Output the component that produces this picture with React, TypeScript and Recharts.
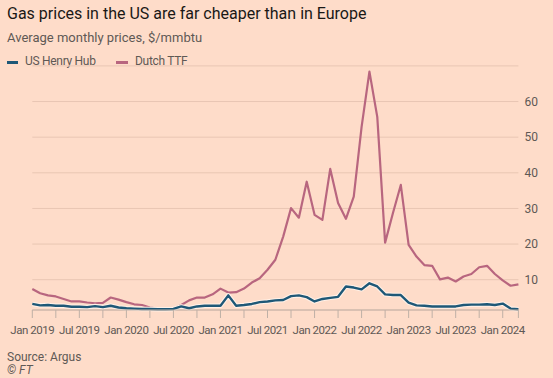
import React from 'react';
import { LineChart, Line, XAxis, YAxis, CartesianGrid } from 'recharts';

const months = [
  'Jan 2019','Feb 2019','Mar 2019','Apr 2019','May 2019','Jun 2019','Jul 2019','Aug 2019','Sep 2019','Oct 2019','Nov 2019','Dec 2019',
  'Jan 2020','Feb 2020','Mar 2020','Apr 2020','May 2020','Jun 2020','Jul 2020','Aug 2020','Sep 2020','Oct 2020','Nov 2020','Dec 2020',
  'Jan 2021','Feb 2021','Mar 2021','Apr 2021','May 2021','Jun 2021','Jul 2021','Aug 2021','Sep 2021','Oct 2021','Nov 2021','Dec 2021',
  'Jan 2022','Feb 2022','Mar 2022','Apr 2022','May 2022','Jun 2022','Jul 2022','Aug 2022','Sep 2022','Oct 2022','Nov 2022','Dec 2022',
  'Jan 2023','Feb 2023','Mar 2023','Apr 2023','May 2023','Jun 2023','Jul 2023','Aug 2023','Sep 2023','Oct 2023','Nov 2023','Dec 2023',
  'Jan 2024','Feb 2024','Mar 2024',
];

const henryHub = [
  3.2, 2.8, 2.9, 2.7, 2.7, 2.4, 2.4, 2.3, 2.6, 2.3, 2.7, 2.2,
  2.0, 1.9, 1.8, 1.8, 1.7, 1.7, 1.8, 2.5, 2.0, 2.5, 2.7, 2.7,
  2.7, 5.6, 2.7, 2.9, 3.2, 3.7, 3.9, 4.2, 4.3, 5.4, 5.6, 5.1,
  3.9, 4.6, 4.9, 5.2, 8.1, 7.8, 7.3, 9.0, 8.1, 5.9, 5.7, 5.7,
  3.6, 2.8, 2.7, 2.5, 2.5, 2.5, 2.5, 2.9, 3.0, 3.0, 3.1, 2.9,
  3.3, 1.9, 1.7,
];

const dutchTTF = [
  7.4, 6.2, 5.6, 5.3, 4.6, 3.9, 3.9, 3.6, 3.4, 3.5, 5.0, 4.4,
  3.7, 3.1, 2.9, 2.2, 1.9, 1.8, 1.9, 2.9, 4.2, 5.0, 5.0, 5.9,
  7.5, 6.4, 6.5, 7.5, 9.2, 10.4, 12.8, 15.6, 22.1, 30.1, 27.4, 37.5,
  28.2, 26.8, 41.1, 31.5, 27.1, 33.3, 52.9, 68.4, 55.7, 20.4, 28.7, 36.6,
  19.8, 16.5, 14.1, 13.9, 10.1, 10.6, 9.5, 10.9, 11.6, 13.5, 13.9, 11.6,
  9.8, 8.3, 8.7,
];

const xTickMarks = [
  'Jan 2019','Apr 2019','Jul 2019','Oct 2019','Jan 2020','Apr 2020','Jul 2020','Oct 2020',
  'Jan 2021','Apr 2021','Jul 2021','Oct 2021','Jan 2022','Apr 2022','Jul 2022','Oct 2022',
  'Jan 2023','Apr 2023','Jul 2023','Oct 2023','Jan 2024','Mar 2024',
];
const xTickLabels = [
  'Jan 2019','Jul 2019','Jan 2020','Jul 2020','Jan 2021','Jul 2021','Jan 2022','Jul 2022',
  'Jan 2023','Jul 2023','Jan 2024',
];
const yTicks = [10, 20, 30, 40, 50, 60];

const data = months.map((m, i) => ({ month: m, hh: henryHub[i], ttf: dutchTTF[i] }));

const BG = '#FEDCC9';
const BLUE = '#1E5877';
const PINK = '#B8667F';
const FONT = 'Roboto, "Open Sans", sans-serif';
const TEXT = '#5E5955';

const XTick = (props: any) => {
  const { x, y, payload } = props;
  if (!xTickLabels.includes(payload.value)) return null;
  return (
    <text x={x} y={y + 14} textAnchor="middle" fill={TEXT} fontSize={11.5} letterSpacing={-0.45} fontFamily={FONT}>
      {payload.value}
    </text>
  );
};

export default function App() {
  return (
    <div style={{ position: 'absolute', left: 0, top: 0, width: 553, height: 378, background: BG, fontFamily: FONT, overflow: 'hidden' }}>
      <div style={{ position: 'absolute', left: 7, top: 4, fontSize: 16, color: '#1A1816', whiteSpace: 'nowrap' }}>
        Gas prices in the US are far cheaper than in Europe
      </div>
      <div style={{ position: 'absolute', left: 7, top: 30, fontSize: 13, color: TEXT, whiteSpace: 'nowrap' }}>
        Average monthly prices, $/mmbtu
      </div>
      <div style={{ position: 'absolute', left: 7, top: 54, fontSize: 12, color: TEXT, whiteSpace: 'nowrap', height: 16, letterSpacing: -0.3 }}>
        <span style={{ position: 'absolute', left: 0, top: 7, width: 11, height: 3, background: BLUE }} />
        <span style={{ position: 'absolute', left: 18, top: 0 }}>US Henry Hub</span>
        <span style={{ position: 'absolute', left: 109, top: 7, width: 12, height: 3, background: PINK }} />
        <span style={{ position: 'absolute', left: 128, top: 0 }}>Dutch TTF</span>
      </div>
      <div style={{ position: 'absolute', left: 0, top: 0 }}>
        <LineChart width={553} height={378} data={data} margin={{ top: 65.9, right: 0, bottom: 38, left: 32.3 }}>
          <CartesianGrid horizontal vertical={false} stroke="#E9C6B3" strokeWidth={1} />
          <XAxis
            dataKey="month"
            ticks={xTickMarks}
            interval={0}
            tick={<XTick />}
            tickSize={8}
            tickLine={{ stroke: '#BFB0A6' }}
            axisLine={{ stroke: '#BFB0A6' }}
            height={30}
          />
          <YAxis
            orientation="right"
            domain={[1.5, 70]}
            ticks={yTicks}
            axisLine={false}
            tickLine={false}
            width={34.6}
            tickMargin={0}
            tick={{ fill: TEXT, fontSize: 12, fontFamily: FONT, textAnchor: 'start' }}
          />
          <Line dataKey="ttf" stroke={PINK} strokeWidth={2.2} dot={false} isAnimationActive={false} strokeLinejoin="round" />
          <Line dataKey="hh" stroke="#FFF1E8" strokeWidth={4.5} dot={false} isAnimationActive={false} strokeLinejoin="round" />
          <Line dataKey="hh" stroke={BLUE} strokeWidth={2.4} dot={false} isAnimationActive={false} strokeLinejoin="round" />
        </LineChart>
      </div>
      <div style={{ position: 'absolute', left: 7, top: 350, fontSize: 12, color: TEXT, whiteSpace: 'nowrap' }}>
        Source: Argus
      </div>
      <div style={{ position: 'absolute', left: 7, top: 363, fontSize: 12, color: TEXT, fontStyle: 'italic', whiteSpace: 'nowrap' }}>
        © FT
      </div>
    </div>
  );
}
